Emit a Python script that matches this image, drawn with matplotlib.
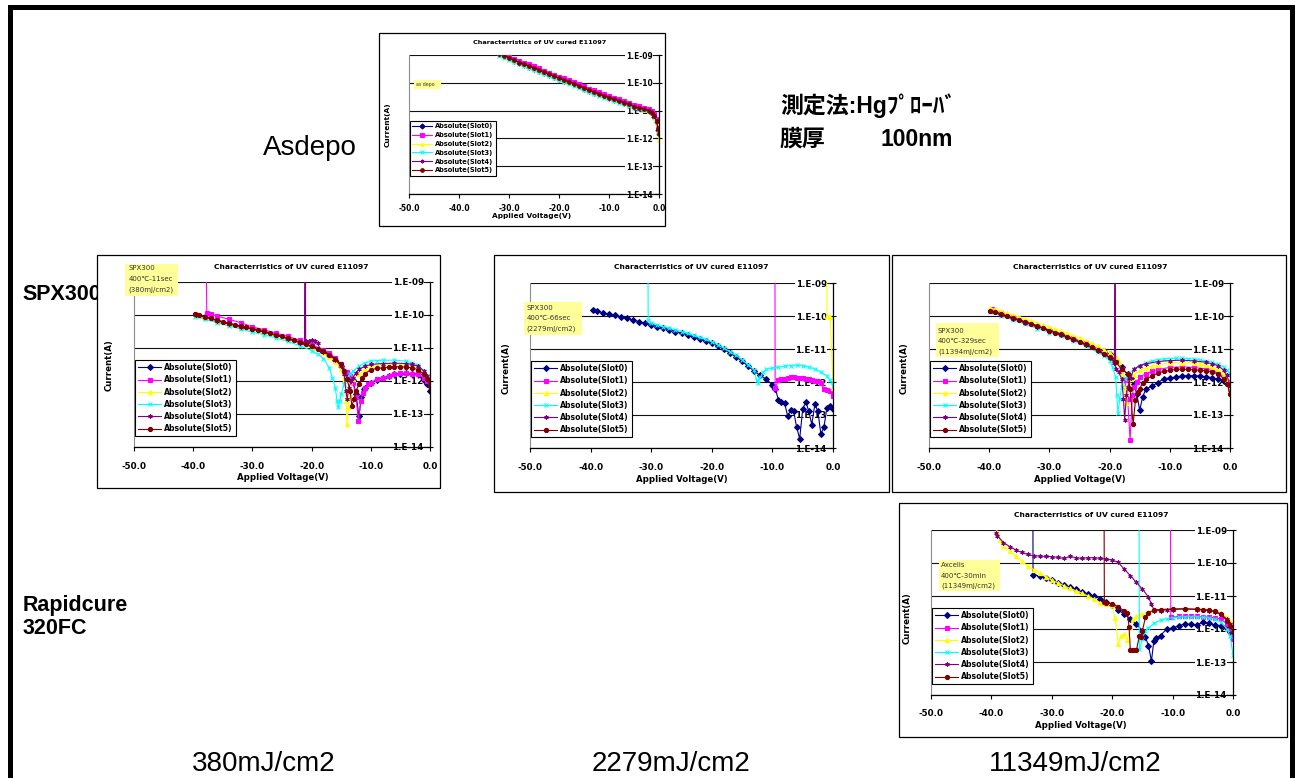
# I-V characteristics of UV cured E11097 - slide with five Excel-style log plots
import numpy as np
import matplotlib.pyplot as plt
from matplotlib.patches import Rectangle
from matplotlib.lines import Line2D

W, H = 1295, 778

# ---------------- data: applied voltage (V), log10 of current (A) ----------------
# as deposited: all slots measured on the same voltage grid
asdepo_v = [-32, -31, -30, -29, -28, -27, -26, -25, -24, -23, -22, -21, -20, -19, -18, -17,
            -16, -15, -14, -13, -12, -11, -10, -9, -8, -7, -6, -5, -4, -3, -2, -1.5, -1,
            -0.5, -0.2, 0]
asdepo_slot0 = [-8.97, -9.04, -9.12, -9.21, -9.29, -9.35, -9.42, -9.49, -9.56, -9.64, -9.71, -9.79,
                -9.86, -9.92, -9.98, -10.05, -10.13, -10.21, -10.29, -10.35, -10.42, -10.49, -10.55,
                -10.61, -10.67, -10.73, -10.8, -10.88, -10.92, -10.97, -11.02, -11.1, -11.22,
                -11.42, -11.7, -11.85]
asdepo_slot1 = [-8.89, -8.96, -9.04, -9.13, -9.21, -9.27, -9.34, -9.41, -9.48, -9.56, -9.63, -9.71,
                -9.78, -9.84, -9.9, -9.97, -10.05, -10.13, -10.21, -10.27, -10.34, -10.41, -10.47,
                -10.53, -10.59, -10.65, -10.72, -10.8, -10.84, -10.89, -10.95, -11.02, -11.12,
                -11.3, -11.55, -11.72]
asdepo_slot2 = [-8.98, -9.05, -9.13, -9.22, -9.3, -9.36, -9.43, -9.5, -9.57, -9.65, -9.72, -9.8,
                -9.87, -9.93, -9.99, -10.06, -10.14, -10.22, -10.3, -10.36, -10.43, -10.5, -10.56,
                -10.62, -10.68, -10.74, -10.8, -10.88, -10.92, -10.97, -11.02, -11.1, -11.25,
                -11.45, -11.8, -12.05]
asdepo_slot3 = [-9.02, -9.09, -9.17, -9.26, -9.34, -9.4, -9.47, -9.54, -9.61, -9.69, -9.76, -9.84,
                -9.91, -9.97, -10.03, -10.1, -10.18, -10.26, -10.34, -10.4, -10.47, -10.54, -10.6,
                -10.66, -10.72, -10.78, -10.84, -10.91, -10.95, -10.99, -11.03, -11.1, -11.22,
                -11.42, -11.68, -11.8]
asdepo_slot4 = [-8.94, -9.01, -9.09, -9.18, -9.26, -9.32, -9.39, -9.46, -9.53, -9.61, -9.68, -9.76,
                -9.83, -9.89, -9.95, -10.02, -10.1, -10.18, -10.26, -10.32, -10.39, -10.46, -10.52,
                -10.58, -10.64, -10.7, -10.77, -10.85, -10.89, -10.94, -10.99, -11.06, -11.17,
                -11.36, -11.62, -11.8]
asdepo_slot5 = [-8.95, -9.02, -9.1, -9.19, -9.27, -9.33, -9.4, -9.47, -9.54, -9.62, -9.69, -9.77,
                -9.84, -9.9, -9.96, -10.03, -10.11, -10.19, -10.27, -10.33, -10.4, -10.47, -10.53,
                -10.59, -10.65, -10.71, -10.78, -10.86, -10.9, -10.95, -11.0, -11.07, -11.19,
                -11.39, -11.65, -11.83]

# SPX300 400C-11sec (380mJ/cm2): (V, log10 I) pairs
spx380_slot0 = [(-39.5, -9.99), (-38, -10.07), (-36, -10.17), (-34, -10.27), (-32, -10.35), (-30, -10.43),
                (-28, -10.52), (-26, -10.62), (-24, -10.72), (-22, -10.84), (-20, -10.97), (-18, -11.12),
                (-17, -11.22), (-16, -11.35), (-15, -11.55), (-14, -11.75), (-13.5, -11.85), (-13, -11.97),
                (-12.5, -12.4), (-12, -13.07), (-11.6, -12.5), (-11.2, -12.25), (-11, -12.2), (-10, -12.06),
                (-9, -11.97), (-8, -11.9), (-7, -11.85), (-6, -11.8), (-5, -11.78), (-4, -11.76),
                (-3, -11.78), (-2, -11.8), (-1, -11.96), (-0.5, -12.1), (0, -12.3)]
spx380_slot1 = [(-38.05, -5.0), (-37.7, -9.95), (-37, -9.98), (-36, -10.03), (-34, -10.13), (-32, -10.23),
                (-30, -10.36), (-28, -10.45), (-26, -10.55), (-24, -10.65), (-22, -10.77), (-20, -10.9),
                (-18, -11.05), (-17, -11.15), (-16, -11.3), (-15, -11.5), (-14, -11.72), (-13.5, -11.85),
                (-13, -12.05), (-12.5, -12.5), (-12.1, -13.2), (-11.7, -12.6), (-11.3, -12.35), (-11, -12.2),
                (-10.5, -12.1), (-10, -12.05), (-9, -11.95), (-8, -11.9), (-7, -11.85), (-6, -11.8),
                (-5, -11.77), (-4, -11.77), (-3, -11.78), (-2, -11.8), (-1, -11.9), (-0.5, -12.0), (0, -12.16)]
spx380_slot2 = [(-39.5, -10.02), (-38, -10.1), (-36, -10.2), (-34, -10.3), (-32, -10.38), (-30, -10.46),
                (-28, -10.55), (-26, -10.65), (-24, -10.75), (-22, -10.87), (-20, -11.0), (-18, -11.15),
                (-17, -11.27), (-16, -11.42), (-15, -11.65), (-14.5, -12.0), (-14.2, -12.6), (-14, -13.3),
                (-13.8, -12.8), (-13.5, -12.4), (-13, -11.95), (-12, -11.8), (-11, -11.65), (-10, -11.56),
                (-8, -11.5), (-6, -11.48), (-4, -11.5), (-3, -11.52), (-2, -11.58), (-1, -11.72),
                (-0.5, -11.9), (0, -12.15)]
spx380_slot3 = [(-39.7, -10.05), (-38, -10.13), (-36, -10.23), (-34, -10.33), (-32, -10.42), (-30, -10.52),
                (-28, -10.6), (-26, -10.7), (-24, -10.8), (-22, -10.93), (-20, -11.08), (-19, -11.18),
                (-18, -11.32), (-17, -11.6), (-16.5, -11.9), (-16, -12.2), (-15.7, -12.6), (-15.5, -12.8),
                (-15.2, -12.6), (-15, -12.4), (-14.5, -12.1), (-14, -11.9), (-13.5, -11.8), (-13, -11.7),
                (-12, -11.55), (-11, -11.45), (-10, -11.4), (-9, -11.38), (-8, -11.37), (-6, -11.37),
                (-4, -11.4), (-3, -11.45), (-2, -11.52), (-1, -11.7), (-0.5, -11.85), (0, -11.98)]
spx380_slot4 = [(-39.5, -10.0), (-38, -10.07), (-36, -10.17), (-34, -10.27), (-32, -10.35), (-30, -10.43),
                (-28, -10.52), (-26, -10.62), (-24, -10.72), (-22, -10.84), (-21.2, -10.86), (-21.1, -5.0),
                (-21.0, -10.8), (-20.5, -10.78), (-20, -10.76), (-19.5, -10.8), (-19, -10.86), (-18.5, -11.05),
                (-18, -11.12), (-17, -11.22), (-16, -11.35), (-15, -11.55), (-14.5, -11.8), (-14.2, -12.3),
                (-14, -12.55), (-13.7, -12.2), (-13.3, -12.0), (-13, -11.9), (-12.5, -11.75), (-12, -11.65),
                (-11, -11.55), (-10, -11.5), (-8, -11.47), (-6, -11.46), (-4, -11.47), (-3, -11.5),
                (-2, -11.55), (-1, -11.7), (-0.5, -11.85), (0, -12.05)]
spx380_slot5 = [(-39.7, -9.97), (-39, -10.0), (-38, -10.05), (-37, -10.1), (-36, -10.15), (-35, -10.2),
                (-34, -10.25), (-33, -10.29), (-32, -10.33), (-31, -10.37), (-30, -10.41), (-29, -10.45),
                (-28, -10.5), (-27, -10.55), (-26, -10.6), (-25, -10.65), (-24, -10.7), (-23, -10.76),
                (-22, -10.82), (-21, -10.88), (-20, -10.95), (-19, -11.02), (-18, -11.1), (-17, -11.2),
                (-16, -11.33), (-15, -11.5), (-14.5, -11.7), (-14, -11.95), (-13.5, -12.3), (-13.2, -12.75),
                (-12.8, -12.55), (-12.5, -12.3), (-12, -12.1), (-11.5, -11.9), (-11, -11.78), (-10, -11.66),
                (-9, -11.62), (-8, -11.6), (-7, -11.58), (-6, -11.57), (-5, -11.57), (-4, -11.58),
                (-3, -11.6), (-2, -11.66), (-1, -11.8), (-0.5, -11.95), (0, -12.16)]

# SPX300 400C-66sec (2279mJ/cm2)
spx2279_slot0 = [(-39.6, -9.82), (-39, -9.85), (-38, -9.9), (-37, -9.94), (-36, -9.98), (-35, -10.02),
                 (-34, -10.07), (-33, -10.12), (-32, -10.17), (-31, -10.22), (-30, -10.27), (-29, -10.32),
                 (-28, -10.37), (-27, -10.42), (-26, -10.47), (-25, -10.52), (-24, -10.58), (-23, -10.64),
                 (-22, -10.7), (-21, -10.76), (-20, -10.82), (-19, -10.91), (-18, -11.01), (-17, -11.12),
                 (-16, -11.24), (-15, -11.37), (-14, -11.52), (-13, -11.67), (-12, -11.8), (-11, -11.92),
                 (-10, -12.09), (-9.5, -12.22), (-9, -12.54), (-8.5, -12.6), (-8, -12.63), (-7.5, -13.02),
                 (-7, -12.86), (-6.5, -12.88), (-6, -13.37), (-5.5, -13.72), (-5, -12.83), (-4.5, -12.6),
                 (-4, -12.88), (-3.5, -13.29), (-3, -12.68), (-2.5, -12.88), (-2, -13.58), (-1.5, -13.37),
                 (-1, -12.78), (-0.5, -12.73), (0, -12.82)]
spx2279_slot1 = [(-9.6, -5.0), (-9.55, -12.18), (-9, -11.95), (-8.5, -11.92), (-8, -11.9), (-7.5, -11.88),
                 (-7, -11.85), (-6.5, -11.86), (-6, -11.87), (-5.5, -11.88), (-5, -11.89), (-4.5, -11.9),
                 (-4, -11.92), (-3.5, -11.94), (-3, -11.96), (-2.5, -11.98), (-2, -12.02), (-1.5, -12.22),
                 (-1, -12.25), (-0.5, -12.27), (0, -12.42)]
spx2279_slot2 = [(-1.1, -5.0), (-1.0, -10.0), (-0.45, -10.02), (0, -12.17)]
spx2279_slot3 = [(-30.6, -5.0), (-30.5, -10.12), (-30, -10.2), (-29, -10.27), (-28, -10.32), (-27, -10.37),
                 (-26, -10.42), (-25, -10.47), (-24, -10.53), (-23, -10.59), (-22, -10.65), (-21, -10.71),
                 (-20, -10.78), (-19, -10.87), (-18, -10.97), (-17, -11.08), (-16, -11.19), (-15, -11.32),
                 (-14, -11.47), (-13, -11.64), (-12.6, -11.95), (-12.4, -12.02), (-12, -11.85), (-11.5, -11.7),
                 (-11, -11.62), (-10, -11.57), (-9, -11.55), (-8, -11.52), (-7, -11.5), (-6, -11.49),
                 (-5, -11.51), (-4, -11.55), (-3, -11.6), (-2, -11.7), (-1, -11.82), (-0.5, -11.95), (0, -12.12)]
spx2279_slot4 = []
spx2279_slot5 = []

# SPX300 400C-329sec (11394mJ/cm2)
spx11394_slot0 = [(-39.6, -9.82), (-38, -9.94), (-36, -10.06), (-34, -10.19), (-32, -10.31), (-30, -10.43),
                  (-28, -10.55), (-26, -10.69), (-24, -10.84), (-22, -11.0), (-21, -11.05), (-20, -11.15),
                  (-19, -11.36), (-18, -11.56), (-17, -11.77), (-16.5, -11.87), (-16, -12.06), (-15.5, -12.35),
                  (-15, -12.85), (-14.5, -12.45), (-14, -12.22), (-13, -12.12), (-12, -12.02), (-11, -11.9),
                  (-10, -11.88), (-9, -11.85), (-8, -11.82), (-7, -11.81), (-6, -11.81), (-5, -11.82),
                  (-4, -11.84), (-3, -11.87), (-2, -11.92), (-1, -11.97), (-0.5, -12.0), (0, -12.06)]
spx11394_slot1 = [(-39.6, -9.8), (-38, -9.92), (-36, -10.04), (-34, -10.17), (-32, -10.29), (-30, -10.41),
                  (-28, -10.54), (-26, -10.68), (-24, -10.83), (-22, -11.0), (-20, -11.22), (-19, -11.37),
                  (-18, -11.6), (-17.5, -11.95), (-17, -12.5), (-16.6, -13.75), (-16.2, -12.4), (-16, -12.16),
                  (-15.5, -12.0), (-15, -11.85), (-14, -11.75), (-13, -11.68), (-12, -11.62), (-10, -11.56),
                  (-8, -11.54), (-6, -11.56), (-4, -11.6), (-3, -11.65), (-2, -11.72), (-1, -11.85),
                  (-0.5, -12.0), (0, -12.21)]
spx11394_slot2 = [(-39.8, -9.76), (-39, -9.8), (-38, -9.86), (-37, -9.92), (-36, -9.98), (-35, -10.03),
                  (-34, -10.09), (-33, -10.15), (-32, -10.21), (-31, -10.27), (-30, -10.33), (-29, -10.39),
                  (-28, -10.46), (-27, -10.53), (-26, -10.6), (-25, -10.67), (-24, -10.75), (-23, -10.83),
                  (-22, -10.92), (-21, -11.02), (-20, -11.12), (-19, -11.25), (-18.5, -11.4), (-18, -11.75),
                  (-17.6, -12.15), (-17.2, -12.65), (-16.8, -12.1), (-16.5, -11.9), (-16, -11.78),
                  (-15, -11.65), (-14, -11.57), (-13, -11.52), (-12, -11.48), (-10, -11.42), (-8, -11.41),
                  (-6, -11.43), (-5, -11.45), (-4, -11.48), (-3, -11.55), (-2, -11.62), (-1, -11.75),
                  (-0.5, -11.95), (0, -12.26)]
spx11394_slot3 = [(-39.8, -9.88), (-38, -10.0), (-36, -10.12), (-34, -10.25), (-32, -10.38), (-30, -10.5),
                  (-28, -10.62), (-26, -10.75), (-24, -10.9), (-22, -11.1), (-21, -11.2), (-20, -11.35),
                  (-19.5, -11.55), (-19, -11.85), (-18.8, -12.4), (-18.6, -12.95), (-18.3, -12.5),
                  (-18, -12.15), (-17.5, -11.9), (-17, -11.78), (-16, -11.62), (-15, -11.5), (-14, -11.42),
                  (-13, -11.36), (-12, -11.32), (-11, -11.3), (-10, -11.29), (-9, -11.28), (-8, -11.28),
                  (-7, -11.29), (-6, -11.31), (-5, -11.33), (-4, -11.36), (-3, -11.4), (-2, -11.46),
                  (-1, -11.55), (-0.5, -11.65), (0, -11.77)]
spx11394_slot4 = [(-39.8, -9.85), (-38, -9.96), (-36, -10.08), (-34, -10.2), (-32, -10.32), (-30, -10.45),
                  (-28, -10.58), (-26, -10.72), (-24, -10.87), (-22, -11.05), (-20, -11.27), (-19.2, -11.42),
                  (-19.1, -5.0), (-19.0, -11.6), (-18.5, -11.7), (-18, -11.9), (-17.7, -12.5), (-17.5, -13.14),
                  (-17.2, -12.4), (-17, -12.15), (-16.5, -11.88), (-16, -11.62), (-15, -11.5), (-14, -11.45),
                  (-12, -11.38), (-10, -11.35), (-8, -11.34), (-6, -11.36), (-4, -11.4), (-3, -11.45),
                  (-2, -11.5), (-1, -11.65), (-0.5, -11.8), (0, -12.11)]
spx11394_slot5 = [(-39.8, -9.84), (-39, -9.88), (-38, -9.94), (-37, -10.0), (-36, -10.06), (-35, -10.12),
                  (-34, -10.18), (-33, -10.24), (-32, -10.3), (-31, -10.37), (-30, -10.44), (-29, -10.5),
                  (-28, -10.56), (-27, -10.63), (-26, -10.7), (-25, -10.78), (-24, -10.86), (-23, -10.95),
                  (-22, -11.04), (-21, -11.14), (-20, -11.25), (-19, -11.4), (-18, -11.6), (-17, -11.75),
                  (-16.6, -12.2), (-16.1, -13.27), (-15.7, -12.55), (-15.3, -12.3), (-15, -12.2),
                  (-14.5, -12.02), (-14, -11.92), (-13, -11.82), (-12, -11.73), (-11, -11.68), (-10, -11.65),
                  (-9, -11.62), (-8, -11.61), (-7, -11.62), (-6, -11.63), (-5, -11.65), (-4, -11.66),
                  (-3, -11.7), (-2, -11.75), (-1, -11.9), (-0.5, -12.05), (0, -12.35)]

# Axcelis 400C-30min (11349mJ/cm2), Rapidcure 320FC
axc_slot0 = [(-33.2, -5.0), (-33.1, -10.35), (-32, -10.4), (-31, -10.46), (-30, -10.53), (-29, -10.6),
             (-28, -10.67), (-27, -10.74), (-26, -10.8), (-25, -10.87), (-24, -10.94), (-23, -11.0),
             (-22, -11.08), (-21, -11.18), (-20, -11.28), (-19, -11.42), (-18, -11.55), (-17, -11.7),
             (-16, -11.85), (-15, -12.05), (-14.5, -12.25), (-14, -12.5), (-13.5, -12.97), (-13.1, -12.35),
             (-12.8, -12.28), (-12, -12.2), (-11, -12.0), (-10, -11.97), (-9, -11.9), (-8, -11.85),
             (-7, -11.86), (-6, -11.87), (-5, -11.8), (-4, -11.83), (-3, -11.88), (-2, -11.9),
             (-1, -11.98), (-0.5, -12.1), (0, -12.26)]
axc_slot1 = [(-10.4, -5.0), (-10.3, -11.63), (-9, -11.62), (-8, -11.61), (-7, -11.61), (-6, -11.62),
             (-5, -11.63), (-4, -11.64), (-3, -11.66), (-2, -11.7), (-1, -11.85), (-0.5, -12.0), (0, -12.29)]
axc_slot2 = [(-39.2, -8.9), (-39, -9.1), (-38.5, -9.3), (-38, -9.48), (-37, -9.63), (-36, -9.79),
             (-35, -9.94), (-34, -10.09), (-33, -10.2), (-32, -10.3), (-31, -10.42), (-30, -10.52),
             (-29, -10.6), (-28, -10.69), (-27, -10.77), (-26, -10.84), (-25, -10.92), (-24, -11.0),
             (-23, -11.1), (-22, -11.2), (-21, -11.24), (-20, -11.28), (-19.5, -11.68), (-19, -12.44),
             (-18.5, -12.22), (-18, -12.15), (-17.5, -12.32), (-17, -11.95), (-16.5, -11.7), (-16, -11.6),
             (-15, -11.55), (-14, -11.49), (-12, -11.43), (-10, -11.4), (-8, -11.39), (-6, -11.39),
             (-4, -11.42), (-3, -11.45), (-2, -11.5), (-1, -11.65), (-0.5, -11.75), (0, -12.0)]
axc_slot3 = [(-15.6, -5.0), (-15.5, -12.62), (-15, -12.3), (-14.5, -12.05), (-14, -11.96), (-13, -11.83),
             (-12, -11.73), (-11, -11.69), (-10, -11.66), (-9, -11.64), (-8, -11.63), (-7, -11.63),
             (-6, -11.63), (-5, -11.65), (-4, -11.66), (-3, -11.7), (-2, -11.8), (-1, -12.0),
             (-0.5, -12.2), (0, -12.78)]
axc_slot4 = [(-39.2, -9.1), (-39, -9.18), (-38, -9.38), (-37, -9.5), (-36, -9.6), (-35, -9.68),
             (-34, -9.74), (-33, -9.78), (-32, -9.79), (-31, -9.8), (-30, -9.81), (-29, -9.83),
             (-28, -9.86), (-27, -9.8), (-26, -9.84), (-25, -9.86), (-24, -9.84), (-23, -9.84),
             (-22, -9.86), (-21, -9.88), (-20, -9.91), (-19, -9.98), (-18, -10.19), (-17, -10.38),
             (-16, -10.59), (-15, -10.79), (-14, -11.03), (-13.5, -11.25), (-13, -11.45), (-12, -11.44),
             (-11, -11.42), (-10, -11.41), (-8, -11.39), (-6, -11.41), (-4, -11.44), (-3, -11.48),
             (-2, -11.55), (-1, -11.7), (-0.5, -11.85), (0, -12.04)]
axc_slot5 = [(-21.4, -5.0), (-21.3, -11.18), (-21, -11.2), (-20, -11.23), (-19, -11.33), (-18, -11.45),
             (-17.5, -11.5), (-17.2, -11.95), (-17, -12.64), (-16.5, -12.65), (-16, -12.65), (-15.5, -12.2),
             (-15.2, -12.25), (-15, -12.05), (-14.5, -11.65), (-14, -11.5), (-13, -11.42), (-12, -11.41),
             (-10, -11.39), (-8, -11.39), (-6, -11.4), (-5, -11.41), (-4, -11.43), (-3, -11.46),
             (-2, -11.55), (-1, -11.75), (-0.5, -11.9), (0, -12.08)]

slot_names = ['Absolute(Slot0)', 'Absolute(Slot1)', 'Absolute(Slot2)',
              'Absolute(Slot3)', 'Absolute(Slot4)', 'Absolute(Slot5)']
slot_colors = ['#000080', '#FF00FF', '#FFFF00', '#00FFFF', '#800080', '#800000']
slot_markers = ['D', 's', '^', 'x', (6, 2, 0), 'o']
x_ticks = [-50, -40, -30, -20, -10, 0]
y_ticks = [1e-14, 1e-13, 1e-12, 1e-11, 1e-10, 1e-9]
y_tick_labels = ['1.E-14', '1.E-13', '1.E-12', '1.E-11', '1.E-10', '1.E-09']
chart_title = 'Characterristics of UV cured E11097'

plt.rcParams['font.family'] = 'DejaVu Sans'
plt.rcParams['font.weight'] = 'bold'

fig = plt.figure(figsize=(W / 100, H / 100), dpi=100)


def fxy(x, y):
    # slide pixel -> figure fraction
    return x / W, 1 - y / H


def unzip(points):
    if not points:
        return [], []
    v, logi = zip(*points)
    return list(v), list(logi)


def draw_chart(frame, plot, series, title_xy, ylabel_xy, xlabel_xy, xpad, s=1.0):
    x0, y0, x1, y1 = frame
    fig.add_artist(Rectangle(fxy(x0, y1), (x1 - x0) / W, (y1 - y0) / H, transform=fig.transFigure,
                             facecolor='white', edgecolor='black', linewidth=0.9, zorder=-1))
    p0, q0, p1, q1 = plot
    ax = fig.add_axes([p0 / W, 1 - q1 / H, (p1 - p0) / W, (q1 - q0) / H])

    handles = []
    for i, (v, logi) in enumerate(series):
        cur = 10.0 ** np.asarray(logi, dtype=float)
        h, = ax.plot(v, cur, color=slot_colors[i], marker=slot_markers[i], ms=3.0 * s,
                     lw=0.8, mew=0.8)
        handles.append(h)

    ax.set_yscale('log')
    ax.set_ylim(1e-14, 1e-9)
    ax.set_xlim(-50, 0)
    ax.minorticks_off()
    ax.set_yticks(y_ticks, labels=y_tick_labels)
    ax.set_xticks(x_ticks, labels=[f'{t:.1f}' for t in x_ticks])
    ax.yaxis.tick_right()
    ax.grid(axis='y', color='#111111', lw=0.8)
    ax.spines['top'].set_visible(False)
    ax.spines['left'].set_color('#8c8c8c')
    ax.spines['left'].set_linewidth(0.8)
    ax.spines['right'].set_linewidth(0.9)
    ax.spines['bottom'].set_linewidth(0.9)
    ax.tick_params(axis='y', direction='inout', length=4, width=0.8, pad=-6.5, labelsize=6.3 * s)
    ax.tick_params(axis='x', direction='out', length=3, width=0.8, pad=xpad, labelsize=6.3 * s)
    for lbl in ax.get_yticklabels():
        lbl.set_ha('right')
        lbl.set_bbox(dict(facecolor='white', edgecolor='none', pad=0.4))

    leg = ax.legend(handles, slot_names, loc='upper left', bbox_to_anchor=(0.004, 0.525),
                    prop=dict(family='DejaVu Sans', weight='bold', size=5.6 * s),
                    fancybox=False, edgecolor='black', framealpha=1, borderpad=0.35,
                    labelspacing=0.42, handlelength=3.0, handletextpad=0.4, borderaxespad=0)
    leg.get_frame().set_linewidth(0.8)

    fig.text(*fxy(*title_xy), chart_title, ha='center', va='center', fontsize=5.4 * s)
    fig.text(*fxy(*ylabel_xy), 'Current(A)', ha='center', va='center', rotation=90, fontsize=6.2 * s)
    fig.text(*fxy(*xlabel_xy), 'Applied Voltage(V)', ha='center', va='center', fontsize=6.2 * s)
    return ax


def add_note(box, x_text, ys, lines, size=5.0):
    bx0, by0, bx1, by1 = box
    fig.add_artist(Rectangle(fxy(bx0, by1), (bx1 - bx0) / W, (by1 - by0) / H, transform=fig.transFigure,
                             facecolor='#FFFF99', edgecolor='none', zorder=5))
    for y, line in zip(ys, lines):
        fig.text(*fxy(x_text, y), line, ha='left', va='center', fontsize=size, weight='normal',
                 family=['DejaVu Sans', 'Noto Sans CJK JP'], color='#333333', zorder=6)


# slide frame
fig.add_artist(Line2D([9.5 / W, 9.5 / W, 1292 / W, 1292 / W], [-0.02, 1 - 6.5 / H, 1 - 6.5 / H, -0.02],
                      transform=fig.transFigure, color='black', lw=3.6, solid_joinstyle='miter'))

# as deposited
draw_chart((379, 33, 665, 226), (409, 55, 659, 194),
           [(asdepo_v, asdepo_slot0), (asdepo_v, asdepo_slot1), (asdepo_v, asdepo_slot2),
            (asdepo_v, asdepo_slot3), (asdepo_v, asdepo_slot4), (asdepo_v, asdepo_slot5)],
           (540, 42), (388, 125), (532, 216), xpad=4, s=0.86)
add_note((414, 80, 441, 89), 416, [84.5], ['as depo'], size=3.4)

# SPX300 row
draw_chart((97, 255, 440, 488), (134, 282, 430, 447),
           [unzip(p) for p in [spx380_slot0, spx380_slot1, spx380_slot2,
                               spx380_slot3, spx380_slot4, spx380_slot5]],
           (291, 267), (109, 365), (283, 478), xpad=7.5)
add_note((125, 264, 178, 296), 128.5, [268.5, 279, 289.5],
         ['SPX300', '400℃-11sec', '(380mJ/cm2)'])

draw_chart((494, 255, 889, 492), (530, 283, 833, 448),
           [unzip(p) for p in [spx2279_slot0, spx2279_slot1, spx2279_slot2,
                               spx2279_slot3, spx2279_slot4, spx2279_slot5]],
           (691, 267), (506, 368), (682, 480), xpad=8)
add_note((524, 302, 582, 335), 526.5, [307.5, 318, 329],
         ['SPX300', '400℃-66sec', '(2279mJ/cm2)'])

draw_chart((892, 255, 1286, 492), (929, 283, 1230, 448),
           [unzip(p) for p in [spx11394_slot0, spx11394_slot1, spx11394_slot2,
                               spx11394_slot3, spx11394_slot4, spx11394_slot5]],
           (1090, 267), (904, 368), (1080, 480), xpad=8)
add_note((936, 323, 999, 357), 938, [331, 341.5, 352],
         ['SPX300', '400℃-329sec', '(11394mJ/cm2)'])

# Rapidcure row
draw_chart((899, 503, 1287, 737), (931, 530, 1233, 695),
           [unzip(p) for p in [axc_slot0, axc_slot1, axc_slot2, axc_slot3, axc_slot4, axc_slot5]],
           (1091, 515), (907, 618), (1081, 725), xpad=7)
add_note((939, 560, 1000, 591), 941, [565, 575.5, 586],
         ['Axcelis', '400℃-30min', '(11349mJ/cm2)'])

# slide texts
sans = ['Liberation Sans', 'Noto Sans CJK JP']
fig.text(*fxy(263, 155), 'Asdepo', fontsize=20, weight='normal', family=sans, va='baseline')
fig.text(*fxy(22.5, 300), 'SPX300', fontsize=15.5, weight='bold', family=sans, va='baseline', zorder=-2)
fig.text(*fxy(22.5, 611), 'Rapidcure', fontsize=15.5, weight='bold', family=sans, va='baseline')
fig.text(*fxy(22.5, 634), '320FC', fontsize=15.5, weight='bold', family=sans, va='baseline')
fig.text(*fxy(780, 113), '測定法:Hgﾌﾟﾛｰﾊﾞ', fontsize=16.5, weight='bold', family=sans, va='baseline')
fig.text(*fxy(780, 146), '膜厚', fontsize=16.5, weight='bold', family=sans, va='baseline')
fig.text(*fxy(880, 146), '100nm', fontsize=16.5, weight='bold', family=sans, va='baseline')
for xc, label in [(263.5, '380mJ/cm2'), (671, '2279mJ/cm2'), (1075, '11349mJ/cm2')]:
    fig.text(*fxy(xc, 771), label, fontsize=20, weight='normal', family=sans,
             ha='center', va='baseline')

fig.savefig('out.png', dpi=100)
